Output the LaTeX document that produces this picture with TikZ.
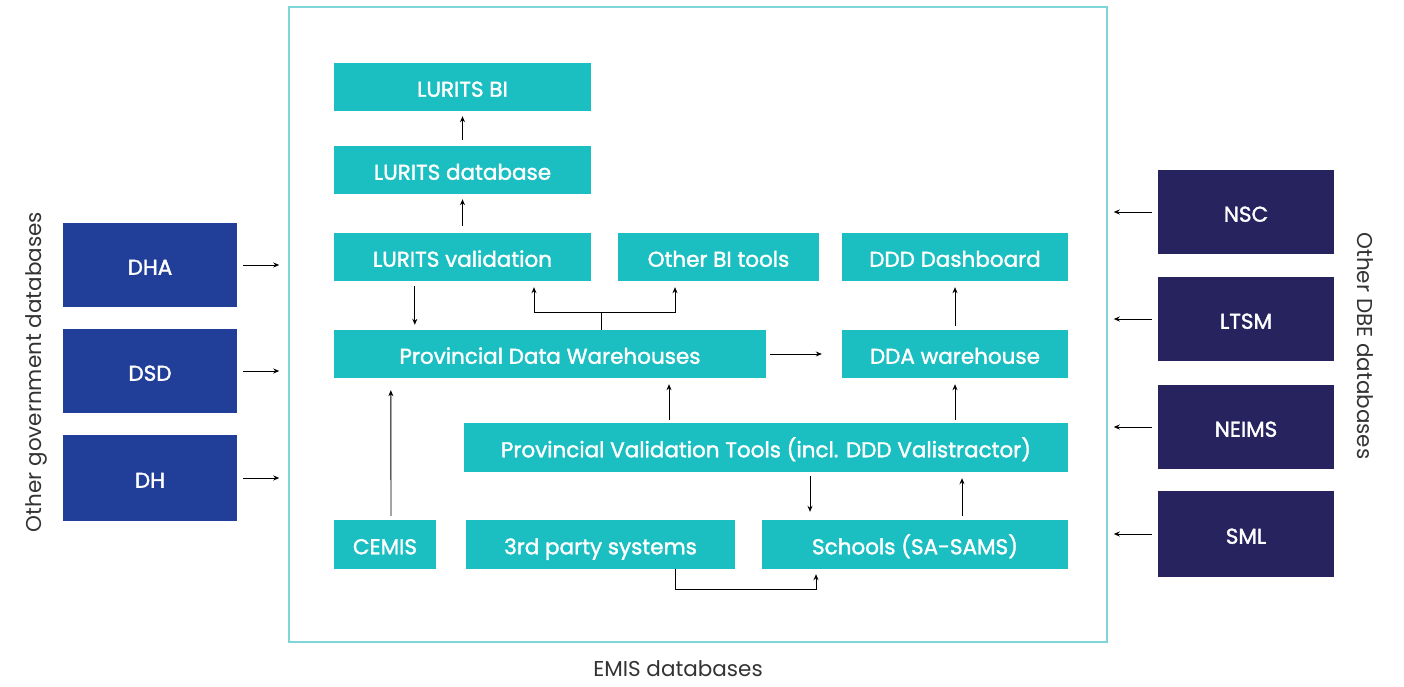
\documentclass[tikz,border=0pt]{standalone}
\usepackage{fontspec}
\setmainfont{Poppins}
\newfontfamily\boxfont{Poppins}[FakeBold=1.6]
\usetikzlibrary{arrows.meta}
\definecolor{emisteal}{RGB}{27,190,193}
\definecolor{govblue}{RGB}{33,63,153}
\definecolor{dbenavy}{RGB}{39,35,95}
\definecolor{framecol}{RGB}{127,214,216}
\definecolor{labelgrey}{RGB}{51,51,51}
\begin{document}
\begin{tikzpicture}[x=1pt,y=-1pt,
    tealbox/.style={fill=emisteal, text=white, inner sep=0pt, minimum height=48pt, text height=19.5pt, text depth=0pt, font=\boxfont\fontsize{21.5}{21.5}\selectfont},
    govbox/.style={fill=govblue, text=white, inner sep=0pt, minimum width=174pt, minimum height=84pt, text height=19.5pt, text depth=0pt, font=\boxfont\fontsize{21.5}{21.5}\selectfont},
    dbebox/.style={fill=dbenavy, text=white, inner sep=0pt, minimum width=176pt, minimum height=84pt, text height=19.5pt, text depth=0pt, font=\boxfont\fontsize{21.5}{21.5}\selectfont},
    sidelabel/.style={text=labelgrey, font=\fontsize{21.5}{21.5}\selectfont},
    link/.style={-{Stealth[length=6pt,width=5pt]}, line width=0.9pt, shorten <=5pt, shorten >=5pt}]
    \useasboundingbox (0,0) rectangle (1404,687);
    \draw 
    (698,324.5) node[draw=framecol, line width=1.5pt, minimum width=818pt, minimum height=635pt] (emis) {}
    (462.5,87) node[tealbox, minimum width=257pt] (lbi) {LURITS BI}
    (462.5,170) node[tealbox, minimum width=257pt] (ldb) {LURITS database}
    (462.5,257) node[tealbox, minimum width=257pt] (lval) {LURITS validation}
    (718.5,257) node[tealbox, minimum width=201pt] (obi) {Other BI tools}
    (955,257) node[tealbox, minimum width=226pt] (ddd) {DDD Dashboard}
    (550,354) node[tealbox, minimum width=432pt] (pdw) {Provincial Data Warehouses}
    (955,354) node[tealbox, minimum width=226pt] (dda) {DDA warehouse}
    (766,447.5) node[tealbox, minimum width=604pt, minimum height=49pt] (pvt) {Provincial Validation Tools (incl. DDD Valistractor)}
    (385,544.5) node[tealbox, minimum width=102pt, minimum height=49pt] (cemis) {CEMIS}
    (600.5,544.5) node[tealbox, minimum width=269pt, minimum height=49pt] (third) {3rd party systems}
    (915,544.5) node[tealbox, minimum width=306pt, minimum height=49pt] (schools) {Schools (SA-SAMS)}
    (150,265) node[govbox] (dha) {DHA}
    (150,371) node[govbox] (dsd) {DSD}
    (150,478) node[govbox, minimum height=86pt] (dh) {DH}
    (1246,212) node[dbebox] (nsc) {NSC}
    (1246,319) node[dbebox] (ltsm) {LTSM}
    (1246,427) node[dbebox] (neims) {NEIMS}
    (1246,534) node[dbebox, minimum height=86pt] (sml) {SML}
    (36,372) node[sidelabel, rotate=90] (govlabel) {Other government databases}
    (1365,346) node[sidelabel, rotate=-90] (dbelabel) {Other DBE databases}
    (678,669) node[sidelabel] (emislabel) {EMIS databases}
    ;
    % into the EMIS frame
    \draw[link, shorten <=6pt, shorten >=9pt] (dha.east) -- (dha.east -| emis.west);
    \draw[link, shorten <=6pt, shorten >=9pt] (dsd.east) -- (dsd.east -| emis.west);
    \draw[link, shorten <=6pt, shorten >=9pt] (dh.east) -- (dh.east -| emis.west);
    \draw[link, shorten <=6pt, shorten >=6pt] (nsc.west) -- (nsc.west -| emis.east);
    \draw[link, shorten <=6pt, shorten >=6pt] (ltsm.west) -- (ltsm.west -| emis.east);
    \draw[link, shorten <=6pt, shorten >=6pt] (neims.west) -- (neims.west -| emis.east);
    \draw[link, shorten <=6pt, shorten >=6pt] (sml.west) -- (sml.west -| emis.east);
    % inside
    \draw[link, shorten <=6pt] (ldb.north) -- (lbi.south);
    \draw[link, shorten <=7pt] (lval.north) -- (ldb.south);
    \draw[link] ([xshift=81pt]lval.south west) -- ([xshift=81pt]pdw.north west);
    \draw[link, shorten <=0pt, shorten >=6pt] ([xshift=51pt]pdw.north) -- ++(0,-17) -| ([xshift=71.5pt]lval.south);
    \draw[link, shorten <=0pt, shorten >=6pt] ([xshift=51pt]pdw.north) -- ++(0,-17) -| ([xshift=-43.5pt]obi.south);
    \draw[link, shorten <=4pt, shorten >=20pt] (pdw.east) -- (dda.west);
    \draw[link, shorten <=4pt, shorten >=6pt] (dda.north) -- (ddd.south);
    \draw[link, shorten <=3pt, shorten >=6pt] ([xshift=-97pt]pvt.north) -- ([xshift=119pt]pdw.south);
    \draw[link, shorten <=3pt, shorten >=6pt] (pvt.north -| dda.south) -- (dda.south);
    \draw[link, shorten <=4pt, shorten >=12pt] ([xshift=6pt]cemis.north) -- ([xshift=57pt]pdw.south west);
    \draw[link, shorten <=4pt, shorten >=8pt] ([xshift=44pt]pvt.south) -- ([xshift=-105pt]schools.north);
    \draw[link, shorten <=4pt, shorten >=6pt] ([xshift=47pt]schools.north) -- ([xshift=196pt]pvt.south);
    \draw[link, shorten <=0pt, shorten >=5pt] ([xshift=74.5pt]third.south) -- ++(0,20) -| ([xshift=-99pt]schools.south);
\end{tikzpicture}
\end{document}
